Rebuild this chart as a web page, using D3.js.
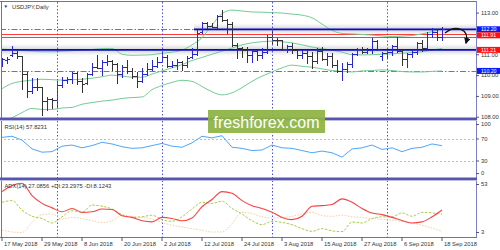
<!DOCTYPE html>
<html><head><meta charset="utf-8">
<script src="https://cdn.jsdelivr.net/npm/d3@7"></script>
<style>
html,body{margin:0;padding:0;background:#fff;overflow:hidden}
svg{display:block}
text{font-family:"Liberation Sans",Arial,sans-serif}
</style></head><body>
<svg id="c" width="500" height="250"></svg>
<script>
// ---------- data ----------
const dates = [
"2018-05-17","2018-05-18","2018-05-21","2018-05-22","2018-05-23","2018-05-24","2018-05-25","2018-05-28","2018-05-29","2018-05-30","2018-05-31",
"2018-06-01","2018-06-04","2018-06-05","2018-06-06","2018-06-07","2018-06-08","2018-06-11","2018-06-12","2018-06-13","2018-06-14","2018-06-15","2018-06-18","2018-06-19","2018-06-20","2018-06-21","2018-06-22","2018-06-25","2018-06-26","2018-06-27","2018-06-28","2018-06-29",
"2018-07-02","2018-07-03","2018-07-04","2018-07-05","2018-07-06","2018-07-09","2018-07-10","2018-07-11","2018-07-12","2018-07-13","2018-07-16","2018-07-17","2018-07-18","2018-07-19","2018-07-20","2018-07-23","2018-07-24","2018-07-25","2018-07-26","2018-07-27","2018-07-30","2018-07-31",
"2018-08-01","2018-08-02","2018-08-03","2018-08-06","2018-08-07","2018-08-08","2018-08-09","2018-08-10","2018-08-13","2018-08-14","2018-08-15","2018-08-16","2018-08-17","2018-08-20","2018-08-21","2018-08-22","2018-08-23","2018-08-24","2018-08-27","2018-08-28","2018-08-29","2018-08-30","2018-08-31",
"2018-09-03","2018-09-04","2018-09-05","2018-09-06","2018-09-07","2018-09-10","2018-09-11","2018-09-12","2018-09-13","2018-09-14","2018-09-17","2018-09-18"];

const open  = [110.50,110.72,110.95,111.05,110.90,110.05,109.25,109.45,109.42,108.78,108.87,108.80,109.52,109.78,109.82,110.10,109.72,109.60,110.05,110.37,110.35,110.62,110.66,110.53,110.05,110.37,110.20,109.96,109.70,110.05,110.28,110.46,110.65,110.85,110.45,110.50,110.62,110.47,110.85,111.00,112.05,112.50,112.38,112.32,112.85,112.65,112.45,111.45,111.30,111.20,110.95,111.15,110.95,111.10,111.85,111.70,111.68,111.25,111.40,111.20,110.95,111.05,110.90,110.70,111.15,110.75,110.90,110.50,110.20,110.30,110.55,111.00,111.25,111.10,111.20,111.65,110.90,111.05,111.10,111.40,111.15,110.75,111.00,111.10,111.55,111.30,111.95,112.05,111.85];
const high  = [110.82,110.87,111.38,111.15,110.92,110.15,109.86,109.85,109.43,108.95,108.90,109.70,109.91,109.91,110.15,110.15,109.86,110.10,110.58,110.97,110.73,110.97,110.73,110.60,110.49,110.73,110.34,110.15,110.34,110.58,110.73,110.87,111.11,110.97,110.70,110.75,110.70,110.90,111.30,112.17,112.55,112.55,112.50,112.89,113.13,112.70,112.55,111.54,111.35,111.35,111.21,111.20,111.30,111.93,112.20,111.78,111.69,111.45,111.54,111.21,111.21,111.21,111.11,111.30,111.35,111.06,111.06,110.73,110.58,110.63,111.06,111.30,111.35,111.30,111.78,111.69,111.11,111.21,111.45,111.83,111.21,111.06,111.21,111.59,111.69,112.07,112.26,112.17,112.31];
const low   = [110.45,110.60,110.90,110.80,109.35,108.95,109.14,109.28,108.10,108.32,108.42,108.45,109.43,109.62,109.62,109.55,109.19,109.58,110.02,110.34,110.00,110.49,110.25,109.62,109.91,110.10,109.86,109.43,109.68,110.00,110.25,110.39,110.63,110.39,110.40,110.30,110.26,110.40,110.82,110.97,112.02,112.26,112.30,112.28,112.60,112.00,111.40,110.82,110.87,110.63,110.63,110.73,110.82,111.06,111.54,111.45,111.21,111.11,111.06,110.82,110.82,110.58,110.34,110.58,110.73,110.49,110.39,110.15,109.76,110.15,110.39,110.97,111.06,111.06,111.06,111.21,110.73,110.82,110.97,111.11,110.49,110.39,110.87,111.01,111.16,111.21,111.83,111.69,111.69];
const close = [110.77,110.78,111.05,110.92,110.05,109.25,109.45,109.42,108.78,108.87,108.80,109.52,109.78,109.82,110.10,109.72,109.55,110.05,110.37,110.35,110.62,110.66,110.53,110.05,110.37,110.20,109.96,109.70,110.05,110.28,110.46,110.65,110.85,110.45,110.50,110.62,110.47,110.80,111.00,112.00,112.50,112.38,112.32,112.85,112.65,112.45,111.45,111.30,111.20,110.95,111.15,110.95,111.10,111.85,111.70,111.68,111.25,111.40,111.20,110.95,111.05,110.90,110.70,111.15,110.75,110.90,110.50,110.20,110.30,110.55,111.00,111.25,111.10,111.20,111.65,111.25,111.05,111.10,111.40,111.15,110.75,111.00,111.10,111.55,111.30,111.95,112.05,111.85,112.20];

// indicator readings, one value for every 2nd bar
const SAMPLE = 2;
const bbUpper  = [111.25,111.22,111.18,111.15,111.12,111.12,111.14,111.17,111.20,111.23,111.27,111.28,111.00,110.95,110.96,110.98,111.05,111.10,111.20,111.45,111.80,112.40,112.95,113.12,113.08,113.03,113.02,113.00,112.98,112.93,112.88,112.75,112.45,112.15,112.00,111.98,111.95,111.92,111.88,111.85,111.87,111.90,111.98,112.08,112.25];
const bbMiddle = [109.35,109.60,109.70,109.76,109.80,109.78,109.76,109.78,109.80,109.85,109.92,110.00,109.95,109.90,109.90,110.05,110.20,110.35,110.50,110.70,110.85,111.00,111.15,111.30,111.45,111.55,111.60,111.63,111.60,111.55,111.45,111.35,111.27,111.20,111.10,110.98,110.97,110.98,111.00,111.02,111.05,111.08,111.12,111.20,111.28];
const bbLower  = [107.75,107.95,108.20,108.40,108.35,108.35,108.42,108.45,108.60,108.68,108.75,108.80,108.88,108.92,108.95,109.30,109.50,109.65,109.75,109.70,109.45,109.20,109.05,109.15,109.40,109.70,109.95,110.15,110.35,110.48,110.42,110.38,110.30,110.22,110.18,110.15,110.20,110.22,110.25,110.22,110.17,110.15,110.15,110.18,110.20];
const rsi      = [73,75,68,52,46,47,57,59,54,58,64,61,56,53,54,58,62,57,55,63,75,72,76,55,53,49,50,59,54,53,49,45,48,45,37,52,54,59,51,54,47,53,55,61,57.8];
const adx      = [43.5,49,51,40,33,29,25.5,28.5,25,25.5,28,27.5,22,20.5,17.5,16.5,20.5,19.5,17.5,20,30,36.5,43.5,42,35.5,31,28.5,25,20.5,18.5,21.5,30.5,31,32,37,34,28.5,24.4,23,20.5,17.8,15.5,16.5,21,27.1];
const plusDI   = [34,35.5,27,21.5,19.5,15.5,21,26.5,25,31.5,30.5,28,23,20.5,21,22.5,18.5,17,21,28,34,33,35,28.5,23.5,17.5,14,17,16,14,10.5,8,10.5,8.5,7.8,16.4,15.5,19.5,21,21,24.5,21.5,25,24.5,23.3];
const minusDI  = [9,7.5,7,16,23,23.5,19,20.5,19.5,17.5,16,17.5,22.5,21.5,20.5,19,16,13.5,12,10.5,9,7.5,7.5,15,25,24,21,20,20.5,21.5,23.5,25,22,21.5,22.5,21,20.5,19.5,18.8,18,16.8,15.5,13.5,11,8.1];

const tickDates  = ["2018-05-17","2018-05-29","2018-06-08","2018-06-20","2018-07-02","2018-07-12","2018-07-24","2018-08-03","2018-08-15","2018-08-27","2018-09-06","2018-09-18"];
const tickLabels = ["17 May 2018","29 May 2018","8 Jun 2018","20 Jun 2018","2 Jul 2018","12 Jul 2018","24 Jul 2018","3 Aug 2018","15 Aug 2018","27 Aug 2018","6 Sep 2018","18 Sep 2018"];
const priceTicks = [108,109,110,111,113];   // 112.00 sits under the level boxes
const rsiTicks = [0,30,70,100];
const rsiLevels = [30,70];
const adxTicks = [3,53];

const solidLevels   = [111.21];
const breakLevel    = 112.20;          // dash-dot until breakout date, then solid
const breakDate     = "2018-07-10";
const dashDotLevels = [110.20];
const redLevels     = [111.97,111.85];
const boxValues     = [112.20,111.91,111.21,110.20];
const boxKinds      = ["blue","red","red","blue"];
const arrowIdx      = [88.6,90.6,93.6,92.8];
const arrowPrice    = [112.02,112.41,112.26,111.54];

const title = "USDJPY,Daily";
const rsiTitle = "RSI(14) 57.8231";
const adxTitle = "ADX(14) 27.0856 +DI:23.2975 -DI:8.1243";
const watermark = "freshforex.com";

// ---------- layout ----------
const svg = d3.select("#c");
const R = 476;
const P = {main:[2,118], rsi:[120,178], adx:[180,237]};
const FS = 5.8;
const x = d3.scaleLinear().domain([0, dates.length-1]).range([2,442]);
const y = d3.scaleLinear().domain([107.94,113.51]).range([118,2]);
const yR = d3.scaleLinear().domain([0,100]).range([177.5,122.5]);
const yA = d3.scaleLinear().domain([3,53]).range([237,181]);
const snap = v => Math.round(v)+0.5;
const idx = d3.range(dates.length);

const defs = svg.append("defs");
Object.entries(P).forEach(([k,[t,b]])=>{
  defs.append("clipPath").attr("id","clip-"+k).append("rect").attr("x",1).attr("y",t).attr("width",R-1).attr("height",b-t);
});
const grad = defs.append("linearGradient").attr("id","band").attr("x1",0).attr("x2",0).attr("y1",0).attr("y2",1);
grad.append("stop").attr("offset","0%").attr("stop-color","#c4c4c4").attr("stop-opacity",0);
grad.append("stop").attr("offset","50%").attr("stop-color","#b4b4b4").attr("stop-opacity",0.6);
grad.append("stop").attr("offset","100%").attr("stop-color","#c4c4c4").attr("stop-opacity",0);
defs.append("marker").attr("id","ah").attr("viewBox","0 0 10 10").attr("refX",8).attr("refY",5)
  .attr("markerWidth",5).attr("markerHeight",5).attr("orient","auto")
  .append("path").attr("d","M0,0 L10,5 L0,10 z").attr("fill","#111");

// ---------- main panel ----------
const gm = svg.append("g").attr("clip-path","url(#clip-main)");
const breakX = x(dates.indexOf(breakDate)) + 2;

// gray bands
solidLevels.forEach(v=>{
  gm.append("rect").attr("x",0).attr("width",R).attr("y",y(v)-6).attr("height",12).attr("fill","url(#band)");
});
gm.append("rect").attr("x",breakX).attr("width",R-breakX).attr("y",y(breakLevel)-6).attr("height",12).attr("fill","url(#band)");

// month separators
const monthStarts = idx.filter(i=>i>0 && dates[i].slice(5,7)!==dates[i-1].slice(5,7));
svg.append("g").selectAll("line").data(monthStarts).join("line")
  .attr("x1",i=>snap(x(i))).attr("x2",i=>snap(x(i))).attr("y1",2).attr("y2",237)
  .attr("stroke","#5050d8").attr("stroke-width",1).attr("stroke-dasharray","1.5,2");

// dash-dot levels
gm.selectAll(".dd").data(dashDotLevels).join("line")
  .attr("x1",0).attr("x2",R).attr("y1",v=>snap(y(v))).attr("y2",v=>snap(y(v)))
  .attr("stroke","#6a6ae6").attr("stroke-dasharray","6,2,1.5,2");
gm.append("line").attr("x1",0).attr("x2",breakX).attr("y1",snap(y(breakLevel))).attr("y2",snap(y(breakLevel)))
  .attr("stroke","#6a6ae6").attr("stroke-dasharray","6,2,1.5,2");

// red levels
gm.selectAll(".rl").data(redLevels).join("line")
  .attr("x1",0).attr("x2",R).attr("y1",v=>snap(y(v))).attr("y2",v=>snap(y(v)))
  .attr("stroke","#ff3b3b").attr("stroke-width",1);

// Bollinger bands
const bbLine = arr => d3.line().x((d,k)=>x(k*SAMPLE)).y(d=>y(d)).curve(d3.curveMonotoneX)(arr);
[bbUpper,bbMiddle,bbLower].forEach(a=>{
  gm.append("path").attr("d",bbLine(a)).attr("fill","none").attr("stroke","#74cc97").attr("stroke-width",1);
});

// solid blue levels
gm.selectAll(".sl").data(solidLevels).join("line")
  .attr("x1",0).attr("x2",R).attr("y1",v=>y(v)).attr("y2",v=>y(v))
  .attr("stroke","#0a0ac8").attr("stroke-width",1.8);
gm.append("line").attr("x1",breakX).attr("x2",R).attr("y1",y(breakLevel)).attr("y2",y(breakLevel))
  .attr("stroke","#0a0ac8").attr("stroke-width",1.8);

// OHLC bars
const bars = gm.append("g").selectAll("g").data(idx).join("g")
  .attr("stroke",i=>close[i]>=open[i]?"#2626d2":"#333333").attr("stroke-width",1);
bars.append("line").attr("x1",i=>snap(x(i))).attr("x2",i=>snap(x(i)))
  .attr("y1",i=>Math.round(y(high[i]))).attr("y2",i=>Math.round(y(low[i]))+1);
bars.append("line").attr("x1",i=>Math.round(x(i))-2).attr("x2",i=>Math.round(x(i)))
  .attr("y1",i=>snap(y(open[i]))).attr("y2",i=>snap(y(open[i])));
bars.append("line").attr("x1",i=>Math.round(x(i))+1).attr("x2",i=>Math.round(x(i))+3)
  .attr("y1",i=>snap(y(close[i]))).attr("y2",i=>snap(y(close[i])));

// arrow annotation
const ap = arrowIdx.map((v,k)=>[x(v),y(arrowPrice[k])]);
svg.append("path").attr("d",`M${ap[0]}C${ap[1]} ${ap[2]} ${ap[3]}`)
  .attr("fill","none").attr("stroke","#111").attr("stroke-width",1.3).attr("marker-end","url(#ah)");

// ---------- RSI ----------
const gr = svg.append("g").attr("clip-path","url(#clip-rsi)");
gr.selectAll("line").data(rsiLevels).join("line")
  .attr("x1",0).attr("x2",R).attr("y1",v=>snap(yR(v))).attr("y2",v=>snap(yR(v)))
  .attr("stroke","#bdbdbd").attr("stroke-dasharray","2,2");
gr.append("path").attr("d",d3.line().x((d,k)=>x(k*SAMPLE)).y(d=>yR(d))(rsi))
  .attr("fill","none").attr("stroke","#4ea7ff").attr("stroke-width",1);

// ---------- ADX ----------
const ga = svg.append("g").attr("clip-path","url(#clip-adx)");
const aLine = arr => d3.line().x((d,k)=>x(k*SAMPLE)).y(d=>yA(d)).curve(d3.curveMonotoneX)(arr);
ga.append("path").attr("d",aLine(minusDI)).attr("fill","none").attr("stroke","#f3cfa6").attr("stroke-width",1).attr("stroke-dasharray","1.5,1.5");
ga.append("path").attr("d",aLine(plusDI)).attr("fill","none").attr("stroke","#a6d046").attr("stroke-width",1).attr("stroke-dasharray","2.5,1.5");
ga.append("path").attr("d",aLine(adx)).attr("fill","none").attr("stroke","#ff4040").attr("stroke-width",1.1);

// ---------- frames ----------
svg.append("line").attr("x1",0).attr("x2",R).attr("y1",1.5).attr("y2",1.5).attr("stroke","#6d6dc4");
svg.append("line").attr("x1",1.5).attr("x2",1.5).attr("y1",1).attr("y2",237).attr("stroke","#6d6dc4");
svg.append("line").attr("x1",R+0.5).attr("x2",R+0.5).attr("y1",1).attr("y2",238).attr("stroke","#8080c8");
[P.main[1], P.rsi[1]].forEach(t=>{
  svg.append("rect").attr("x",0).attr("width",R+1).attr("y",t-0.5).attr("height",2.6).attr("fill","#5656b0");
  svg.append("rect").attr("x",0).attr("width",R+1).attr("y",t+2.1).attr("height",0.9).attr("fill","#b8b8dc");
});
svg.append("line").attr("x1",0).attr("x2",R+1).attr("y1",237.5).attr("y2",237.5).attr("stroke","#6d6dc4");

// ---------- axes ----------
function styleAxis(g){
  g.select(".domain").remove();
  g.selectAll(".tick line").attr("stroke","#55557a");
  g.selectAll("text").attr("font-size",FS).attr("fill","#333").attr("font-family",'"Liberation Sans",Arial,sans-serif');
}
const clampIn = ([t,b]) => v => Math.max(t+4.5, Math.min(b-4.5, v));
svg.append("g").attr("transform",`translate(${R},0)`)
  .call(d3.axisRight(y).tickValues(priceTicks).tickSize(3).tickPadding(2).tickFormat(d3.format(".2f")))
  .call(styleAxis);
const rAx = svg.append("g").attr("transform",`translate(${R},0)`)
  .call(d3.axisRight(yR).tickValues(rsiTicks).tickSize(3).tickPadding(2).tickFormat(d3.format("d")))
  .call(styleAxis);
rAx.selectAll(".tick").attr("transform",d=>`translate(0,${clampIn(P.rsi)(yR(d))})`);
const aAx = svg.append("g").attr("transform",`translate(${R},0)`)
  .call(d3.axisRight(yA).tickValues(adxTicks).tickSize(3).tickPadding(2).tickFormat(d3.format("d")))
  .call(styleAxis);
aAx.selectAll(".tick").attr("transform",d=>`translate(0,${clampIn(P.adx)(yA(d))})`);

const xAx = svg.append("g").attr("transform","translate(0,237)")
  .call(d3.axisBottom(x).tickValues(tickDates.map(d=>dates.indexOf(d))).tickSize(4).tickFormat((d,k)=>tickLabels[k]))
  .call(styleAxis);
xAx.selectAll(".tick line").attr("transform","translate(-0.5,0)");
xAx.selectAll("text").attr("text-anchor","start").attr("x",1.5).attr("y",5).attr("dy","0.71em");

// price boxes
const bx = svg.append("g").selectAll("g").data(boxValues).join("g")
  .attr("transform",v=>`translate(${R+1},${y(v)})`);
bx.append("rect").attr("x",0).attr("y",-3).attr("width",24).attr("height",6)
  .attr("fill",(v,k)=>boxKinds[k]==="blue"?"#0a1aff":"#ff1010");
bx.append("text").attr("x",4).attr("y",1.9).attr("font-size",5.2).attr("fill","#fff").text(v=>v.toFixed(2));

// titles
svg.append("text").attr("x",3.5).attr("y",8.3).attr("font-size",4.5).attr("fill","#1c1c8c").attr("font-family","DejaVu Sans").text("\u25BC");
svg.append("text").attr("x",12).attr("y",8.5).attr("font-size",FS).attr("fill","#333").text(title);
svg.append("text").attr("x",4.5).attr("y",128.5).attr("font-size",FS).attr("fill","#333").text(rsiTitle);
svg.append("text").attr("x",4.5).attr("y",188).attr("font-size",FS).attr("fill","#333").text(adxTitle);

// watermark
const wm = svg.append("g");
wm.append("rect").attr("x",208).attr("y",110).attr("width",117).attr("height",23).attr("fill","#8db443").attr("opacity",0.93);
wm.append("text").attr("x",266.5).attr("y",128).attr("text-anchor","middle").attr("font-family","'Open Sans',sans-serif")
  .attr("font-size",17).attr("fill","#fff").attr("textLength",106).attr("lengthAdjust","spacingAndGlyphs").text(watermark);
</script>
</body></html>
